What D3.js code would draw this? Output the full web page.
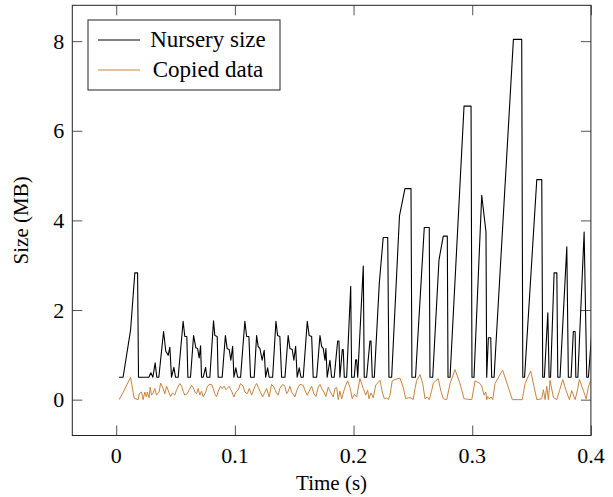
<!DOCTYPE html>
<html>
<head>
<meta charset="utf-8">
<script src="https://cdn.jsdelivr.net/npm/d3@7"></script>
<style>
  body { margin: 0; background: #fff; }
  svg text { font-family: "Liberation Serif", "Times New Roman", serif; fill: #000; }
</style>
</head>
<body>
<div id="chart"></div>
<script>
// time in seconds, size in MB
const nurseryTime = [
  0.0024, 0.0058, 0.0121, 0.0157, 0.0180, 0.0188, 0.0275, 0.0292, 0.0309, 0.0328,
  0.0342, 0.0359, 0.0399, 0.0418, 0.0438, 0.0452, 0.0466, 0.0486, 0.0500, 0.0522,
  0.0564, 0.0578, 0.0595, 0.0604, 0.0626, 0.0652, 0.0671, 0.0686, 0.0699, 0.0711,
  0.0719, 0.0733, 0.0753, 0.0764, 0.0789, 0.0820, 0.0831, 0.0851, 0.0859, 0.0893,
  0.0920, 0.0935, 0.0952, 0.0966, 0.0981, 0.0992, 0.1008, 0.1023, 0.1048, 0.1084,
  0.1099, 0.1118, 0.1132, 0.1163, 0.1183, 0.1196, 0.1211, 0.1230, 0.1247, 0.1259,
  0.1276, 0.1289, 0.1318, 0.1346, 0.1360, 0.1379, 0.1394, 0.1422, 0.1449, 0.1464,
  0.1483, 0.1497, 0.1512, 0.1525, 0.1542, 0.1557, 0.1576, 0.1610, 0.1626, 0.1647,
  0.1660, 0.1689, 0.1717, 0.1731, 0.1745, 0.1759, 0.1767, 0.1778, 0.1801, 0.1815,
  0.1837, 0.1866, 0.1877, 0.1885, 0.1905, 0.1913, 0.1922, 0.1942, 0.1976, 0.1984,
  0.2006, 0.2018, 0.2026, 0.2035, 0.2082, 0.2090, 0.2110, 0.2138, 0.2147, 0.2158,
  0.2175, 0.2217, 0.2250, 0.2288, 0.2298, 0.2321, 0.2387, 0.2433, 0.2484, 0.2492,
  0.2522, 0.2596, 0.2638, 0.2644, 0.2667, 0.2720, 0.2756, 0.2790, 0.2796, 0.2813,
  0.2931, 0.2990, 0.2998, 0.3015, 0.3080, 0.3116, 0.3122, 0.3136, 0.3156, 0.3164,
  0.3184, 0.3347, 0.3417, 0.3426, 0.3441, 0.3544, 0.3586, 0.3594, 0.3608, 0.3637,
  0.3648, 0.3660, 0.3690, 0.3713, 0.3721, 0.3740, 0.3797, 0.3810, 0.3833, 0.3852,
  0.3867, 0.3873, 0.3890, 0.3943, 0.3965, 0.3979, 0.4027
];
const nurserySize = [
  0.5, 0.5, 1.55, 2.83, 2.83, 0.5, 0.5, 0.6, 0.5, 0.82,
  0.5, 0.5, 1.52, 1.08, 0.99, 1.17, 0.5, 0.72, 0.5, 0.5,
  1.75, 1.41, 1.41, 0.5, 0.5, 1.43, 1.16, 1.14, 0.93, 1.2,
  0.5, 0.5, 0.72, 0.5, 0.5, 1.76, 1.43, 1.41, 0.5, 0.5,
  1.43, 1.14, 1.12, 0.88, 1.19, 0.5, 0.71, 0.5, 0.5, 1.75,
  1.41, 1.41, 0.5, 0.5, 1.43, 1.19, 1.14, 0.88, 1.1, 0.5,
  0.71, 0.5, 0.5, 1.75, 1.43, 1.41, 0.5, 0.5, 1.43, 1.14,
  1.12, 0.88, 1.19, 0.5, 0.71, 0.5, 0.5, 1.75, 1.43, 1.41,
  0.5, 0.5, 1.43, 1.19, 1.14, 0.88, 1.14, 0.5, 0.88, 0.5,
  0.5, 1.31, 1.31, 0.5, 1.12, 1.12, 0.5, 0.5, 2.53, 0.5,
  0.5, 0.89, 0.89, 0.5, 2.98, 0.5, 0.5, 1.31, 1.31, 0.5,
  0.5, 2.6, 3.62, 3.62, 0.5, 0.5, 4.1, 4.71, 4.71, 0.5,
  0.5, 3.84, 3.84, 0.5, 0.5, 3.12, 3.65, 3.65, 0.5, 0.5,
  6.55, 6.55, 0.5, 0.5, 4.56, 3.74, 0.5, 1.38, 1.38, 0.5,
  0.5, 8.04, 8.04, 0.5, 0.5, 4.91, 4.91, 0.5, 0.5, 1.94,
  0.5, 0.5, 2.83, 2.83, 0.5, 0.5, 3.41, 0.5, 0.5, 1.52,
  1.52, 0.5, 0.5, 3.74, 0.5, 0.5, 2.2
];
const copiedTime = [
  0.0024, 0.0053, 0.0121, 0.0151, 0.0185, 0.0193, 0.0213, 0.0227, 0.0241, 0.0255,
  0.0262, 0.0277, 0.0286, 0.0298, 0.0311, 0.0325, 0.0340, 0.0362, 0.0374, 0.0390,
  0.0410, 0.0424, 0.0446, 0.0458, 0.0475, 0.0494, 0.0508, 0.0536, 0.0551, 0.0564,
  0.0578, 0.0598, 0.0615, 0.0635, 0.0648, 0.0663, 0.0677, 0.0691, 0.0705, 0.0719,
  0.0733, 0.0755, 0.0766, 0.0783, 0.0804, 0.0817, 0.0831, 0.0846, 0.0859, 0.0879,
  0.0893, 0.0910, 0.0924, 0.0952, 0.0972, 0.0992, 0.1008, 0.1028, 0.1048, 0.1070,
  0.1084, 0.1104, 0.1121, 0.1141, 0.1154, 0.1169, 0.1183, 0.1196, 0.1211, 0.1234,
  0.1253, 0.1267, 0.1289, 0.1309, 0.1329, 0.1346, 0.1365, 0.1379, 0.1402, 0.1422,
  0.1436, 0.1449, 0.1464, 0.1478, 0.1506, 0.1520, 0.1534, 0.1548, 0.1576, 0.1590,
  0.1610, 0.1626, 0.1647, 0.1666, 0.1683, 0.1702, 0.1717, 0.1731, 0.1750, 0.1767,
  0.1787, 0.1801, 0.1829, 0.1843, 0.1858, 0.1871, 0.1885, 0.1900, 0.1928, 0.1950,
  0.1970, 0.1989, 0.2006, 0.2026, 0.2054, 0.2082, 0.2102, 0.2119, 0.2130, 0.2147,
  0.2166, 0.2186, 0.2208, 0.2223, 0.2242, 0.2259, 0.2279, 0.2293, 0.2307, 0.2326,
  0.2349, 0.2391, 0.2419, 0.2439, 0.2461, 0.2484, 0.2503, 0.2518, 0.2532, 0.2560,
  0.2583, 0.2602, 0.2621, 0.2638, 0.2659, 0.2672, 0.2714, 0.2734, 0.2756, 0.2785,
  0.2813, 0.2855, 0.2897, 0.2931, 0.2996, 0.3024, 0.3066, 0.3080, 0.3100, 0.3114,
  0.3122, 0.3131, 0.3142, 0.3159, 0.3173, 0.3192, 0.3256, 0.3338, 0.3422, 0.3445,
  0.3493, 0.3544, 0.3586, 0.3600, 0.3614, 0.3628, 0.3642, 0.3656, 0.3684, 0.3713,
  0.3735, 0.3763, 0.3791, 0.3819, 0.3839, 0.3867, 0.3886, 0.3903, 0.3937, 0.3960,
  0.3979, 0.3993, 0.4010
];
const copiedSize = [
  0, 0.13, 0.5, 0.03, 0, 0.13, 0.17, 0, 0.17, 0.06,
  0.17, 0.04, 0.28, 0.1, 0.15, 0.25, 0.1, 0.17, 0.37, 0.28,
  0.13, 0.3, 0.15, 0.07, 0.15, 0.1, 0.22, 0.36, 0.3, 0.19,
  0.1, 0.13, 0.22, 0.32, 0.28, 0.17, 0.13, 0.25, 0.1, 0.19,
  0.06, 0.17, 0.28, 0.34, 0.34, 0.25, 0.13, 0.06, 0.19, 0.3,
  0.25, 0.3, 0.22, 0.3, 0.19, 0.06, 0.17, 0.22, 0.36, 0.3,
  0.17, 0.13, 0.25, 0.1, 0.19, 0.3, 0.36, 0.28, 0.19, 0.06,
  0.17, 0.25, 0.06, 0.34, 0.28, 0.17, 0.1, 0.25, 0.34, 0.3,
  0.13, 0.19, 0.3, 0.17, 0.06, 0.19, 0.28, 0.34, 0.32, 0.21,
  0.1, 0.19, 0.3, 0.13, 0.07, 0.28, 0.34, 0.25, 0.17, 0.07,
  0.28, 0.19, 0.06, 0.25, 0.27, 0, 0.19, 0.02, 0.28, 0.42,
  0.27, 0.02, 0.12, 0.06, 0.47, 0.25, 0.1, 0.21, 0.02, 0.15,
  0.04, 0.32, 0.39, 0.43, 0.17, 0.02, 0.04, 0, 0.1, 0.42,
  0.45, 0.48, 0.27, 0.02, 0.04, 0.04, 0, 0.25, 0.43, 0.56,
  0.36, 0.02, 0.06, 0, 0.21, 0.37, 0.47, 0.21, 0.02, 0,
  0.36, 0.67, 0.36, 0.02, 0, 0.42, 0.36, 0.3, 0.1, 0.17,
  0, 0.07, 0.02, 0.06, 0, 0.36, 0.66, 0, 0, 0.36,
  0.64, 0, 0.02, 0.22, 0, 0.3, 0, 0.43, 0.05, 0,
  0.2, 0.45, 0.2, 0, 0.2, 0, 0.2, 0.45, 0.2, 0.02,
  0.28, 0.39, 0.5
];
const xTicks = [0, 0.1, 0.2, 0.3, 0.4];
const yTicks = [0, 2, 4, 6, 8];
const seriesNames = ['Nursery size', 'Copied data'];
const seriesColors = ['#000000', '#c8843f'];

const W = 613, H = 497;
const plot = { left: 72.3, right: 590.9, top: 5.3, bottom: 435.5 };
const tickLen = 10;

const svg = d3.select('#chart').append('svg')
  .attr('width', W).attr('height', H);

const x = d3.scaleLinear().domain([-0.037, 0.4]).range([plot.left, plot.right]);
const y = d3.scaleLinear().domain([-0.8, 8.8]).range([plot.bottom, plot.top]);

svg.append('defs').append('clipPath').attr('id', 'clip')
  .append('rect')
  .attr('x', plot.left).attr('y', plot.top)
  .attr('width', plot.right - plot.left).attr('height', plot.bottom - plot.top);

// ticks on all four sides, pointing inwards
const tickStyle = g => g.selectAll('line').attr('stroke', '#555').attr('stroke-width', 1);
svg.append('g')
  .attr('transform', `translate(0,${plot.bottom})`)
  .call(d3.axisTop(x).tickValues(xTicks).tickSize(tickLen).tickFormat(''))
  .call(g => g.select('.domain').remove()).call(tickStyle);
svg.append('g')
  .attr('transform', `translate(0,${plot.top})`)
  .call(d3.axisBottom(x).tickValues(xTicks).tickSize(tickLen).tickFormat(''))
  .call(g => g.select('.domain').remove()).call(tickStyle);
svg.append('g')
  .attr('transform', `translate(${plot.left},0)`)
  .call(d3.axisRight(y).tickValues(yTicks).tickSize(tickLen).tickFormat(''))
  .call(g => g.select('.domain').remove()).call(tickStyle);
svg.append('g')
  .attr('transform', `translate(${plot.right},0)`)
  .call(d3.axisLeft(y).tickValues(yTicks).tickSize(tickLen).tickFormat(''))
  .call(g => g.select('.domain').remove()).call(tickStyle);

// tick labels
svg.append('g').selectAll('text').data(xTicks).enter().append('text')
  .attr('x', d => x(d)).attr('y', plot.bottom + 27)
  .attr('text-anchor', 'middle').attr('font-size', 22)
  .text(d => d3.format('~g')(d));
svg.append('g').selectAll('text').data(yTicks).enter().append('text')
  .attr('x', plot.left - 8).attr('y', d => y(d) + 7.5)
  .attr('text-anchor', 'end').attr('font-size', 22)
  .text(d => d);

// axis titles
svg.append('text').attr('x', (plot.left + plot.right) / 2).attr('y', 490)
  .attr('text-anchor', 'middle').attr('font-size', 21).text('Time (s)');
svg.append('text')
  .attr('transform', `translate(28,${(plot.top + plot.bottom) / 2}) rotate(-90)`)
  .attr('text-anchor', 'middle').attr('font-size', 21).text('Size (MB)');

// data lines
const line = d3.line().x(d => x(d[0])).y(d => y(d[1]));
const nursery = nurseryTime.map((t, i) => [t, nurserySize[i]]);
const copied = copiedTime.map((t, i) => [t, copiedSize[i]]);
const lines = svg.append('g').attr('clip-path', 'url(#clip)');
lines.append('path').datum(nursery).attr('d', line)
  .attr('fill', 'none').attr('stroke', seriesColors[0]).attr('stroke-width', 1.1).attr('stroke-linejoin', 'round');
lines.append('path').datum(copied).attr('d', line)
  .attr('fill', 'none').attr('stroke', seriesColors[1]).attr('stroke-width', 1).attr('stroke-linejoin', 'round');

// frame
svg.append('rect')
  .attr('x', plot.left).attr('y', plot.top)
  .attr('width', plot.right - plot.left).attr('height', plot.bottom - plot.top)
  .attr('fill', 'none').attr('stroke', '#222').attr('stroke-width', 1);

// legend
const legend = svg.append('g').attr('transform', 'translate(88,20)');
legend.append('rect').attr('width', 192).attr('height', 70)
  .attr('fill', '#fff').attr('stroke', '#222').attr('stroke-width', 1);
seriesNames.forEach((name, i) => {
  const ly = 20 + i * 30;
  legend.append('line').attr('x1', 10).attr('x2', 52).attr('y1', ly).attr('y2', ly)
    .attr('stroke', seriesColors[i]).attr('stroke-width', 1);
  legend.append('text').attr('x', 120).attr('y', ly + 7)
    .attr('text-anchor', 'middle').attr('font-size', 23).text(name);
});
</script>
</body>
</html>
